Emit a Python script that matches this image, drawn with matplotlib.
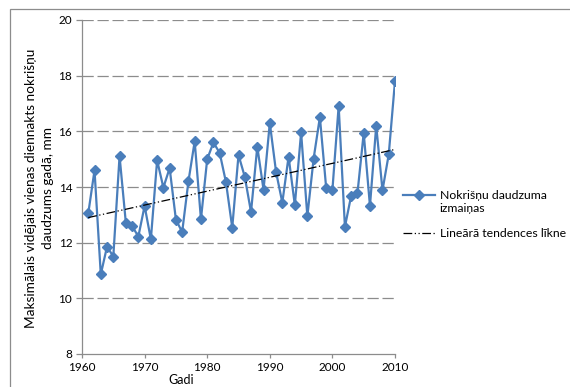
import matplotlib
matplotlib.use("Agg")
import matplotlib.pyplot as plt
import numpy as np
from matplotlib.patches import Rectangle

# Data
years = list(range(1961, 2011))
values = [13.05, 14.6, 10.86, 11.86, 11.5, 15.11, 12.72, 12.6, 12.22, 13.32,
          12.12, 14.96, 13.98, 14.68, 12.83, 12.38, 14.2, 15.64, 12.84, 15.0,
          15.6, 15.22, 14.17, 12.54, 15.15, 14.37, 13.1, 15.45, 13.9, 16.3,
          14.54, 13.44, 15.09, 13.35, 15.96, 12.95, 15.02, 16.51, 13.98, 13.89,
          16.91, 12.57, 13.69, 13.77, 15.94, 13.32, 16.2, 13.88, 15.17, 17.81]
x_ticks = [1960, 1970, 1980, 1990, 2000, 2010]
y_ticks = [8, 10, 12, 14, 16, 18, 20]

series_label = ["Nokrišņu daudzuma", "izmaiņas"]
trend_label = "Lineārā tendences līkne"
y_label = "Maksimālais vidējais vienas diennakts nokrišņu\ndaudzums gadā, mm"
x_label = "Gadi"

plt.rcParams['font.family'] = ['Lato', 'DejaVu Sans']

fig = plt.figure(figsize=(5.7, 3.87), dpi=100)
ax = fig.add_axes([82/570, 1 - 354/387, (395 - 82)/570, (354 - 20)/387])

# chart area border
fig.patches.append(Rectangle((10/570, -0.05), 1.0, 1 - 8.5/387 + 0.05,
                             transform=fig.transFigure, fill=False,
                             edgecolor="#8c8c8c", linewidth=0.9))

# Main series
blue = "#4a7ebb"
ax.plot(years, values, color=blue, linewidth=1.6, marker="D", markersize=5,
        markerfacecolor=blue, markeredgecolor=blue, label=series_label[0], zorder=3)

# Linear trend
coef = np.polyfit(years, values, 1)
trend = np.polyval(coef, years)
ax.plot(years, trend, color="black", linewidth=0.9,
        dashes=(7, 2, 1, 2, 1, 2), label=trend_label, zorder=4)

ax.set_xlim(1960, 2010)
ax.set_ylim(8, 20)
ax.set_xticks(x_ticks)
ax.set_yticks(y_ticks)

for y in y_ticks[1:]:
    ax.axhline(y, color="#8c8c8c", linewidth=0.9, dashes=(9, 3), zorder=1)

for side in ["top", "right"]:
    ax.spines[side].set_visible(False)
for side in ["left", "bottom"]:
    ax.spines[side].set_color("#8c8c8c")
    ax.spines[side].set_linewidth(0.9)

ax.tick_params(axis="both", direction="out", colors="#8c8c8c", labelcolor="black",
               labelsize=8.5, width=0.9)
ax.tick_params(axis="y", length=4, pad=3)
ax.tick_params(axis="x", length=3, pad=3)

fig.text(39.5/570, 1 - 188/387, y_label, fontsize=9.8, rotation=90,
         ha="center", va="center", multialignment="center", linespacing=1.45)
fig.text(181/570, 1 - 380/387, x_label, fontsize=9, ha="center", va="center")

leg = ax.legend(loc="upper left", bbox_to_anchor=(403/570, 1 - 190/387),
                bbox_transform=fig.transFigure, frameon=False, fontsize=8.8,
                handlelength=2.6, handletextpad=0.4, labelspacing=2.2,
                borderaxespad=0, borderpad=0)

# second line of the first legend label, under the first line
fig.canvas.draw()
first = leg.get_texts()[0].get_window_extent()
fig.text(first.x0 / fig.bbox.width, (first.y0 - 13) / fig.bbox.height,
         series_label[1], fontsize=8.8, ha="left", va="bottom")

fig.savefig("out.png", dpi=100)
